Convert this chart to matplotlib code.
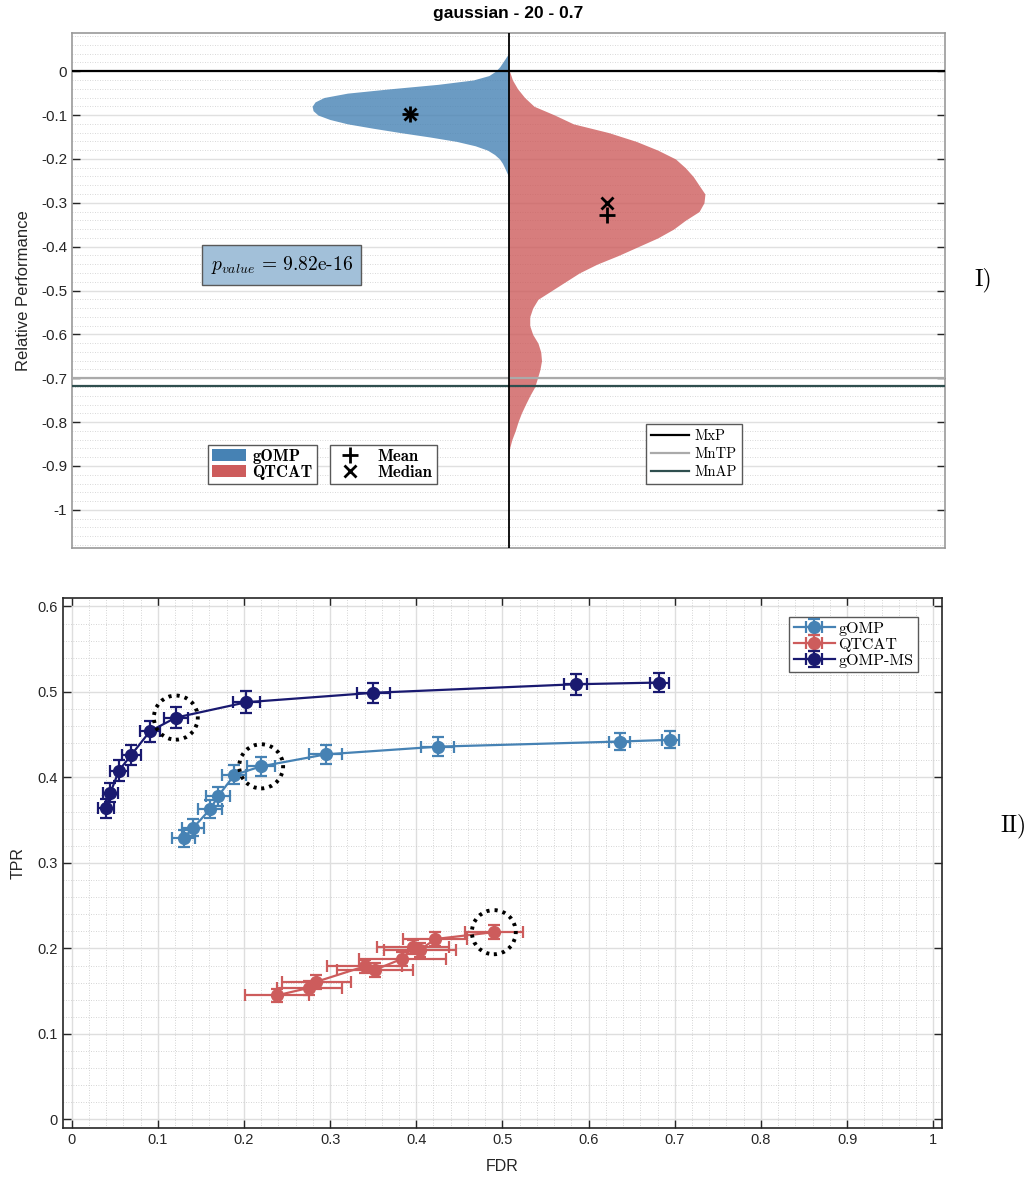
#!/usr/bin/env python3
import numpy as np
import matplotlib
matplotlib.use("Agg")
import matplotlib.pyplot as plt
from matplotlib.lines import Line2D
from matplotlib.patches import Patch, Ellipse
from matplotlib.ticker import MultipleLocator, FuncFormatter
from matplotlib.font_manager import FontProperties

plt.rcParams['font.family'] = 'Liberation Sans'
plt.rcParams['mathtext.fontset'] = 'cm'

# CONFIG
TITLE = "gaussian - 20 - 0.7"
PVALUE = "9.82e-16"
BLUE = "#4682B4"
RED = "#CD5C5C"
NAVY = "#191970"

# --- I) relative performance distributions (density normalised to peak 1) ---
gomp_levels = [0.04, 0.03, 0.02, 0.01, 0.00, -0.01, -0.02, -0.03, -0.04, -0.05,
               -0.06, -0.07, -0.08, -0.09, -0.10, -0.11, -0.12, -0.13, -0.14, -0.15,
               -0.16, -0.17, -0.18, -0.19, -0.20, -0.21, -0.22, -0.23, -0.24]
gomp_density = [0.0, 0.015, 0.03, 0.045, 0.066, 0.10, 0.18, 0.36, 0.60, 0.82,
                0.94, 0.985, 1.0, 0.995, 0.97, 0.91, 0.82, 0.69, 0.55, 0.40,
                0.265, 0.17, 0.107, 0.071, 0.046, 0.031, 0.02, 0.01, 0.0]

qtcat_levels = [0.00, -0.02, -0.04, -0.06, -0.08, -0.10, -0.12, -0.14, -0.16, -0.18,
                -0.20, -0.22, -0.24, -0.26, -0.28, -0.30, -0.32, -0.34, -0.36, -0.38,
                -0.40, -0.42, -0.44, -0.46, -0.48, -0.50, -0.52, -0.54, -0.56, -0.58,
                -0.60, -0.62, -0.64, -0.66, -0.68, -0.70, -0.72, -0.74, -0.76, -0.78,
                -0.80, -0.82, -0.84, -0.86, -0.88]
qtcat_density = [0.005, 0.02, 0.046, 0.082, 0.13, 0.235, 0.33, 0.51, 0.65, 0.76,
                 0.85, 0.90, 0.94, 0.97, 1.0, 0.995, 0.97, 0.90, 0.84, 0.76,
                 0.66, 0.56, 0.45, 0.36, 0.29, 0.22, 0.15, 0.123, 0.108, 0.108,
                 0.123, 0.15, 0.164, 0.168, 0.16, 0.147, 0.133, 0.108, 0.086, 0.065,
                 0.048, 0.034, 0.017, 0.005, 0.0]

gomp_mean, gomp_median = -0.097, -0.097
qtcat_mean, qtcat_median = -0.327, -0.301

ref_names = ["MxP", "MnTP", "MnAP"]
ref_values = [0.0, -0.70, -0.718]
ref_colors = ["black", "#AAAAAA", "#2F4F4F"]

# --- II) TPR vs FDR ---
gomp_fdr = [0.130, 0.141, 0.161, 0.170, 0.189, 0.220, 0.295, 0.425, 0.636, 0.695]
gomp_tpr = [0.329, 0.341, 0.363, 0.378, 0.403, 0.413, 0.427, 0.436, 0.442, 0.444]
gomp_fdr_err = [0.013, 0.013, 0.014, 0.014, 0.014, 0.016, 0.019, 0.019, 0.012, 0.010]
gomp_tpr_err = [0.010, 0.010, 0.011, 0.011, 0.011, 0.011, 0.011, 0.011, 0.010, 0.010]

qtcat_fdr = [0.238, 0.276, 0.284, 0.340, 0.352, 0.384, 0.396, 0.404, 0.422, 0.490]
qtcat_tpr = [0.145, 0.154, 0.161, 0.179, 0.175, 0.188, 0.202, 0.198, 0.211, 0.219]
qtcat_fdr_err = [0.037, 0.038, 0.040, 0.044, 0.044, 0.050, 0.042, 0.042, 0.037, 0.034]
qtcat_tpr_err = [0.008, 0.008, 0.008, 0.008, 0.008, 0.008, 0.008, 0.008, 0.008, 0.008]

ms_fdr = [0.040, 0.045, 0.055, 0.069, 0.091, 0.121, 0.203, 0.350, 0.585, 0.682]
ms_tpr = [0.364, 0.382, 0.408, 0.426, 0.454, 0.470, 0.488, 0.499, 0.509, 0.511]
ms_fdr_err = [0.009, 0.009, 0.010, 0.011, 0.012, 0.014, 0.016, 0.019, 0.013, 0.011]
ms_tpr_err = [0.011, 0.011, 0.012, 0.012, 0.012, 0.012, 0.013, 0.012, 0.012, 0.011]

# chosen operating point of each curve (gets a dotted ring)
gomp_pick, qtcat_pick, ms_pick = 5, 9, 5

VIOLIN_HALF = 0.45

cm_bold = FontProperties(family='cmb10', size=12)


def tick_fmt(v, pos):
    return "%g" % round(v, 3)


def style_axes(ax, spine_color):
    for s in ax.spines.values():
        s.set_color(spine_color)
        s.set_linewidth(1.2)
    ax.tick_params(which='major', direction='in', length=6, width=1,
                   color='0.15', labelcolor='0.15')
    ax.tick_params(which='minor', length=0)


def boxed_legend(ax, handles, labels, anchor, loc, prop, **kw):
    leg = ax.legend(handles, labels, prop=prop, loc=loc, bbox_to_anchor=anchor,
                    borderaxespad=0, fancybox=False, framealpha=1,
                    edgecolor='0.35', **kw)
    leg.get_frame().set_linewidth(1)
    return leg


fig = plt.figure(figsize=(10.32, 11.8), dpi=100)

# ================= I) violin =================
ax1 = fig.add_axes([0.0698, 0.5356, 0.8459, 0.4364])
ax1.set_xlim(-1, 1)
ax1.set_ylim(-1.087, 0.087)

ax1.fill_betweenx(gomp_levels, 0, -VIOLIN_HALF * np.array(gomp_density),
                  color=BLUE, alpha=0.8, lw=0, zorder=2)
ax1.fill_betweenx(qtcat_levels, 0, VIOLIN_HALF * np.array(qtcat_density),
                  color=RED, alpha=0.8, lw=0, zorder=2)

for side, mean, med in [(-1, gomp_mean, gomp_median), (1, qtcat_mean, qtcat_median)]:
    xm = side * VIOLIN_HALF / 2
    ax1.plot(xm, mean, marker='+', color='k', ms=11, mew=2, zorder=6)
    ax1.plot(xm, med, marker='x', color='k', ms=9, mew=2, zorder=6)

for val, col in zip(ref_values, ref_colors):
    ax1.axhline(val, color=col, lw=1.6, zorder=4)
ax1.axvline(0, color='k', lw=1.3, zorder=4)

ax1.yaxis.set_major_locator(MultipleLocator(0.1))
ax1.yaxis.set_minor_locator(MultipleLocator(0.02))
ax1.yaxis.set_major_formatter(FuncFormatter(tick_fmt))
ax1.set_xticks([])
ax1.tick_params(axis='y', which='both', right=True, labelsize=11)
ax1.grid(axis='y', which='major', color='0.88', lw=1, zorder=0)
ax1.grid(axis='y', which='minor', color='0.8', lw=0.6, ls=(0, (1, 2)), zorder=0)
ax1.set_axisbelow(True)
style_axes(ax1, '0.6')
ax1.set_ylabel("Relative Performance", fontsize=12, color='0.15', labelpad=7)
ax1.set_title(TITLE, fontsize=12.5, fontweight='bold', pad=11)

ax1.text(-0.52, -0.442, r'$p_{value}$ = ' + PVALUE,
         fontproperties=FontProperties(family='cmr10', size=14),
         ha='center', va='center', zorder=7,
         bbox=dict(boxstyle='square,pad=0.45', facecolor='#A2C0D9', edgecolor='0.35', lw=1))

leg1 = boxed_legend(ax1, [Patch(facecolor=BLUE, edgecolor='none'),
                          Patch(facecolor=RED, edgecolor='none')],
                    ["gOMP", "QTCAT"], (0.156, 0.124), 'lower left', cm_bold,
                    handlelength=2.0, handleheight=0.75, labelspacing=0.05,
                    borderpad=0.25, handletextpad=0.4)
ax1.add_artist(leg1)

leg2 = boxed_legend(ax1, [Line2D([], [], ls='none', marker='+', color='k', ms=11, mew=2),
                          Line2D([], [], ls='none', marker='x', color='k', ms=8, mew=2)],
                    ["Mean", "Median"], (0.2955, 0.124), 'lower left', cm_bold,
                    handlelength=1.9, labelspacing=0.05, borderpad=0.25,
                    handletextpad=0.7)
ax1.add_artist(leg2)

boxed_legend(ax1, [Line2D([], [], color=c, lw=1.6) for c in ref_colors], ref_names,
             (0.657, 0.124), 'lower left', FontProperties(family='cmr10', size=10.5),
             handlelength=2.6, labelspacing=0.3, borderpad=0.35, handletextpad=0.4)

# ================= II) TPR vs FDR =================
ax2 = fig.add_axes([0.061, 0.0441, 0.8517, 0.4492])
ax2.set_xlim(-0.01, 1.01)
ax2.set_ylim(-0.01, 0.61)

series = [
    ("gOMP", BLUE, gomp_fdr, gomp_tpr, gomp_fdr_err, gomp_tpr_err, gomp_pick),
    ("QTCAT", RED, qtcat_fdr, qtcat_tpr, qtcat_fdr_err, qtcat_tpr_err, qtcat_pick),
    ("gOMP-MS", NAVY, ms_fdr, ms_tpr, ms_fdr_err, ms_tpr_err, ms_pick),
]
handles = []
for name, col, fx, ty, fe, te, pick in series:
    h = ax2.errorbar(fx, ty, xerr=fe, yerr=te, fmt='-o', color=col, ms=8.5,
                     lw=1.6, elinewidth=1.6, capsize=4, capthick=1.6, label=name, zorder=3)
    handles.append(h)
    ax2.add_patch(Ellipse((fx[pick], ty[pick]), 0.051, 0.0516, fill=False,
                          ec='k', lw=2.8, ls=(0, (0.8, 1.3)), zorder=5))

ax2.xaxis.set_major_locator(MultipleLocator(0.1))
ax2.yaxis.set_major_locator(MultipleLocator(0.1))
ax2.xaxis.set_minor_locator(MultipleLocator(0.02))
ax2.yaxis.set_minor_locator(MultipleLocator(0.02))
ax2.xaxis.set_major_formatter(FuncFormatter(tick_fmt))
ax2.yaxis.set_major_formatter(FuncFormatter(tick_fmt))
ax2.tick_params(which='both', top=True, right=True, labelsize=10.5)
ax2.grid(which='major', color='0.87', lw=1, zorder=0)
ax2.grid(which='minor', color='0.78', lw=0.6, ls=(0, (1, 2)), zorder=0)
ax2.set_axisbelow(True)
style_axes(ax2, '0.15')
ax2.set_xlabel("FDR", fontsize=11.5, color='0.15', labelpad=9)
ax2.set_ylabel("TPR", fontsize=11.5, color='0.15', labelpad=9)

boxed_legend(ax2, handles, [h.get_label() for h in handles], (0.973, 0.964), 'upper right',
             FontProperties(family='cmr10', size=11.5), handlelength=2.6,
             labelspacing=0.1, borderpad=0.3, handletextpad=0.2)

fig.text(0.944, 0.763, "I)", fontproperties=FontProperties(family='cmr10', size=17), va='center')
fig.text(0.969, 0.300, "II)", fontproperties=FontProperties(family='cmr10', size=17), va='center')

fig.savefig("out.png", dpi=100)
